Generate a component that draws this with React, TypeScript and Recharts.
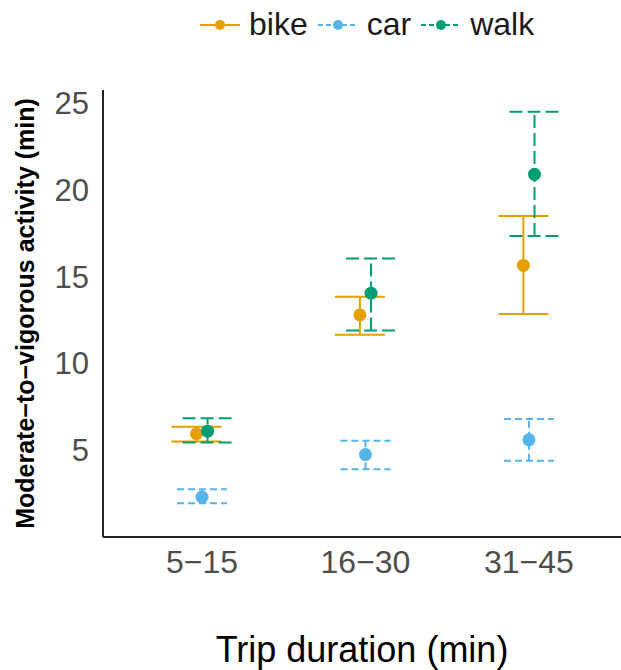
import { ScatterChart, Scatter, XAxis, YAxis, ErrorBar } from "recharts";

const categories = ["5−15", "16−30", "31−45"];

const bikeMean = [5.95, 12.8, 15.65];
const bikeLow = [5.5, 11.65, 12.85];
const bikeHigh = [6.35, 13.85, 18.5];

const carMean = [2.3, 4.75, 5.6];
const carLow = [1.95, 3.9, 4.4];
const carHigh = [2.75, 5.55, 6.8];

const walkMean = [6.1, 14.05, 20.9];
const walkLow = [5.45, 11.9, 17.35];
const walkHigh = [6.85, 16.05, 24.5];

const yTicks = [5, 10, 15, 20, 25];

// position dodge between the three modes
const dodge = 0.034;

const build = (mean: number[], low: number[], high: number[], shift: number) =>
  mean.map((m, i) => ({
    x: i + 1 + shift,
    y: m,
    err: [m - low[i], high[i] - m],
  }));

const series = [
  { name: "bike", color: "#E69F00", dash: undefined, data: build(bikeMean, bikeLow, bikeHigh, -dodge) },
  { name: "car", color: "#56B4E9", dash: "7 4", data: build(carMean, carLow, carHigh, 0) },
  { name: "walk", color: "#009E73", dash: "13 5", data: build(walkMean, walkLow, walkHigh, dodge) },
];

const font = "'Liberation Sans', Arial, sans-serif";

function LegendRow() {
  return (
    <div
      style={{
        position: "absolute",
        top: 6,
        left: 199,
        display: "flex",
        alignItems: "center",
        fontFamily: font,
        fontSize: 32,
        color: "#1a1a1a",
      }}
    >
      {series.map((s) => (
        <div key={s.name} style={{ display: "flex", alignItems: "center", marginRight: 9 }}>
          <svg width={42} height={20}>
            <line x1={1} y1={10} x2={41} y2={10} stroke={s.color} strokeWidth={2} strokeDasharray={s.dash ? "5 3" : undefined} />
            <circle cx={21} cy={10} r={5} fill={s.color} />
          </svg>
          <span style={{ marginLeft: 8 }}>{s.name}</span>
        </div>
      ))}
    </div>
  );
}

export default function App() {
  return (
    <div style={{ position: "absolute", left: 0, top: 0, width: 621, height: 670, background: "#fff" }}>
      <LegendRow />
      <ScatterChart width={621} height={670} margin={{ top: 90, right: 0, bottom: 0, left: 0 }}>
        <XAxis
          type="number"
          dataKey="x"
          domain={[0.3945, 3.563]}
          ticks={[1, 2, 3]}
          allowDataOverflow
          height={133}
          tickFormatter={(v: number) => categories[v - 1]}
          tickLine={false}
          tickSize={0}
          tickMargin={13}
          axisLine={{ stroke: "#222", strokeWidth: 2 }}
          tick={{ fill: "#4d4d4d", fontSize: 32, fontFamily: font }}
          label={{
            value: "Trip duration (min)",
            position: "insideBottom",
            offset: 8,
            fill: "#000",
            fontSize: 36,
            fontFamily: font,
          }}
        />
        <YAxis
          type="number"
          dataKey="y"
          domain={[0, 25.76]}
          ticks={yTicks}
          allowDataOverflow
          width={103}
          tickLine={false}
          tickSize={0}
          tickMargin={14}
          axisLine={{ stroke: "#222", strokeWidth: 2 }}
          tick={{ fill: "#4d4d4d", fontSize: 31, fontFamily: font }}
          label={{
            content: (props: any) => {
              const vb = props.viewBox;
              const cx = vb.x + 25;
              const cy = vb.y + vb.height / 2;
              return (
                <text
                  x={cx}
                  y={cy}
                  transform={`rotate(-90 ${cx} ${cy})`}
                  textAnchor="middle"
                  dominantBaseline="central"
                  fontFamily={font}
                  fontWeight="bold"
                  fontSize={25}
                  fill="#000"
                >
                  Moderate−to−vigorous activity (min)
                </text>
              );
            },
          }}
        />
        {series.map((s) => (
          <Scatter
            key={s.name}
            name={s.name}
            data={s.data}
            fill={s.color}
            isAnimationActive={false}
            shape={(p: any) => <circle cx={p.cx} cy={p.cy} r={6.5} fill={s.color} />}
          >
            <ErrorBar
              dataKey="err"
              direction="y"
              width={25}
              stroke={s.color}
              strokeWidth={2}
              strokeDasharray={s.dash}
              isAnimationActive={false}
            />
          </Scatter>
        ))}
      </ScatterChart>
    </div>
  );
}
